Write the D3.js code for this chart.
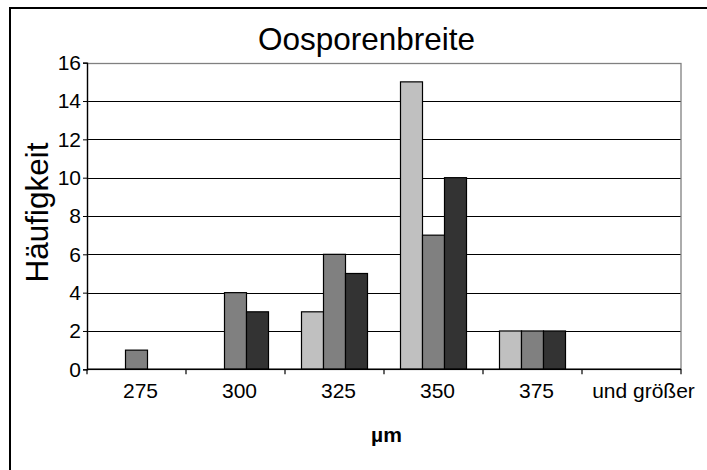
<!DOCTYPE html>
<html>
<head>
<meta charset="utf-8">
<script src="https://cdn.jsdelivr.net/npm/d3@7/dist/d3.min.js"></script>
<style>
  html, body { margin: 0; padding: 0; background: #fff; }
  svg { display: block; font-family: Arial, "Liberation Sans", sans-serif; }
</style>
</head>
<body>
<svg id="chart" width="707" height="470"></svg>
<script>
// ---- data ----
const categories = ["275", "300", "325", "350", "375", "und größer"];
const seriesNames = ["Reihe 1", "Reihe 2", "Reihe 3"];
const series1 = [0, 0, 3, 15, 2, 0];
const series2 = [1, 4, 6, 7, 2, 0];
const series3 = [0, 3, 5, 10, 2, 0];
const yTicks = [0, 2, 4, 6, 8, 10, 12, 14, 16];
const seriesColors = ["#c0c0c0", "#808080", "#333333"];
const titleText = "Oosporenbreite";
const yTitle = "Häufigkeit";
const xTitle = "µm";

const allSeries = [series1, series2, series3];

const svg = d3.select("#chart");

// outer frame (extends past the picture on the right and bottom)
svg.append("rect")
  .attr("x", 10).attr("y", 8)
  .attr("width", 720).attr("height", 480)
  .attr("fill", "#fff").attr("stroke", "#000").attr("stroke-width", 2);

const plot = { left: 87, top: 62.7, right: 681, bottom: 369.3 };

const x = d3.scaleBand().domain(categories).range([plot.left, plot.right]).padding(0);
const y = d3.scaleLinear().domain([0, 16]).range([plot.bottom, plot.top]);

const barW = x.bandwidth() / 4.5;
const xs = d3.scaleBand().domain(d3.range(3)).range([0, barW * 3]).padding(0);

// gridlines
svg.append("g").selectAll("line")
  .data(yTicks.filter(d => d > 0 && d < 16))
  .join("line")
  .attr("x1", plot.left).attr("x2", plot.right)
  .attr("y1", d => Math.round(y(d)) + 0.5).attr("y2", d => Math.round(y(d)) + 0.5)
  .attr("stroke", "#000").attr("stroke-width", 1);

// plot area border
svg.append("rect")
  .attr("x", plot.left + 0.5).attr("y", Math.round(plot.top) + 0.5)
  .attr("width", plot.right - plot.left - 0.5)
  .attr("height", Math.round(plot.bottom) - Math.round(plot.top))
  .attr("fill", "none").attr("stroke", "#808080").attr("stroke-width", 1.3);

// bars
allSeries.forEach((vals, si) => {
  svg.append("g").selectAll("rect")
    .data(vals.map((v, i) => ({ v, c: categories[i] })).filter(d => d.v > 0))
    .join("rect")
    .attr("x", d => x(d.c) + (x.bandwidth() - barW * 3) / 2 + xs(si))
    .attr("y", d => y(d.v))
    .attr("width", barW)
    .attr("height", d => y(0) - y(d.v))
    .attr("fill", seriesColors[si])
    .attr("stroke", "#000").attr("stroke-width", 1.2);
});

// y axis
const yAxis = d3.axisLeft(y).tickValues(yTicks).tickSize(4).tickPadding(2).tickFormat(d3.format("d"));
const gy = svg.append("g").attr("transform", `translate(${plot.left},0)`).call(yAxis);
gy.select(".domain").attr("stroke", "#000").attr("stroke-width", 1.3);
gy.selectAll(".tick line").attr("stroke", "#000");
gy.selectAll("text").attr("font-size", 21).attr("font-family", "Arial, 'Liberation Sans', sans-serif").attr("fill", "#000");

// x axis: line and boundary ticks
const xAxisG = svg.append("g");
xAxisG.append("line")
  .attr("x1", plot.left).attr("x2", plot.right)
  .attr("y1", y(0)).attr("y2", y(0))
  .attr("stroke", "#000").attr("stroke-width", 1.5);
const boundaries = categories.map(c => x(c)).concat([plot.right]);
xAxisG.selectAll("line.bt").data(boundaries).join("line")
  .attr("class", "bt")
  .attr("x1", d => d).attr("x2", d => d)
  .attr("y1", y(0)).attr("y2", y(0) + 5)
  .attr("stroke", "#000").attr("stroke-width", 1.2);
xAxisG.selectAll("text").data(categories).join("text")
  .attr("x", (d, i) => x(d) + x.bandwidth() / 2 + (i === categories.length - 1 ? 12 : 4))
  .attr("y", 397.5)
  .attr("text-anchor", "middle")
  .attr("font-size", 21)
  .attr("fill", "#000")
  .text(d => d);

// titles
svg.append("text")
  .attr("x", 366.5).attr("y", 50)
  .attr("text-anchor", "middle")
  .attr("font-size", 31.5)
  .text(titleText);

svg.append("text")
  .attr("transform", `translate(48,212.5) rotate(-90)`)
  .attr("text-anchor", "middle")
  .attr("font-size", 31.5)
  .text(yTitle);

svg.append("text")
  .attr("x", 386.5).attr("y", 441.5)
  .attr("text-anchor", "middle")
  .attr("font-size", 21)
  .attr("font-weight", "bold")
  .text(xTitle);
</script>
</body>
</html>
